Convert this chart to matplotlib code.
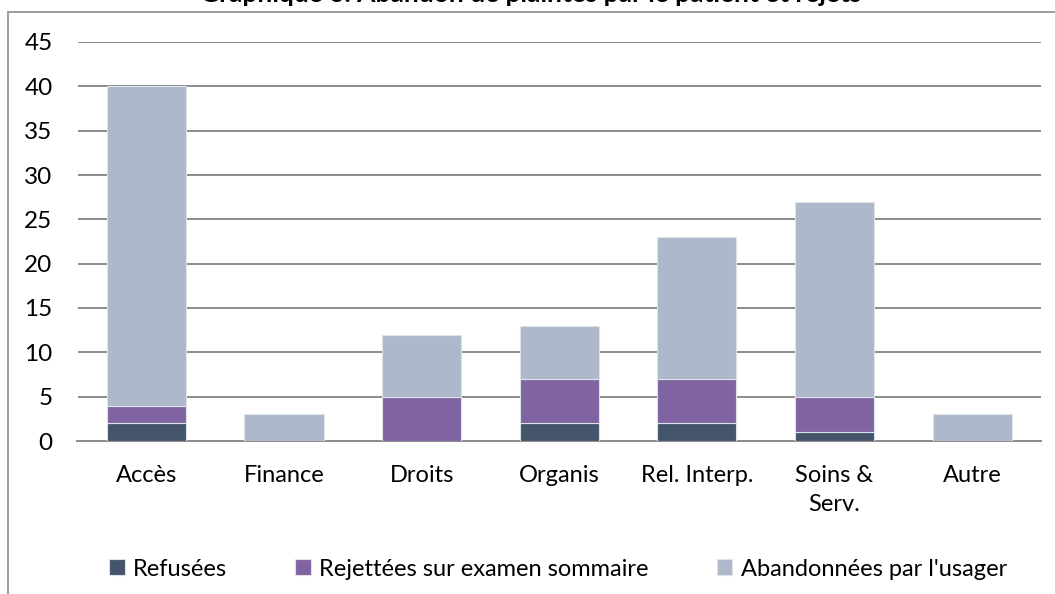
import matplotlib
matplotlib.use('Agg')
import matplotlib.pyplot as plt
import numpy as np
from matplotlib.patches import Rectangle

plt.rcParams['font.family'] = ['Lato', 'DejaVu Sans']

# données
categories = ['Accès', 'Finance', 'Droits', 'Organis', 'Rel. Interp.', 'Soins &\nServ.', 'Autre']
refusees = [2, 0, 0, 2, 2, 1, 0]
rejettees = [2, 0, 5, 5, 5, 4, 0]
abandonnees = [36, 3, 7, 6, 16, 22, 3]
series_names = ['Refusées', 'Rejettées sur examen sommaire', "Abandonnées par l'usager"]
colors = ['#44546A', '#8064A2', '#ADB9CA']
yticks = [0, 5, 10, 15, 20, 25, 30, 35, 40, 45]

W, H = 1055, 594
fig = plt.figure(figsize=(W / 100, H / 100), dpi=100)
ax = fig.add_axes([77.5 / W, 1 - 441 / H, (1041 - 77.5) / W, (441 - 42) / H])

x = np.arange(len(categories))
bottom = np.zeros(len(categories))
for vals, name, col in zip([refusees, rejettees, abandonnees], series_names, colors):
    ax.bar(x, vals, 0.575, bottom=bottom, color=col, label=name,
           edgecolor='#dde3ea', linewidth=0.8, zorder=3)
    bottom += np.array(vals)

ax.set_xlim(-0.5, len(categories) - 0.5)
ax.set_ylim(0, 45)
ax.set_yticks(yticks)
ax.set_xticks(x)
ax.set_xticklabels(categories, fontsize=17, linespacing=1.5)
ax.tick_params(axis='y', length=0, labelsize=17.5, pad=18)
ax.tick_params(axis='x', length=0, pad=17)
ax.grid(axis='y', color='#8c8c8c', linewidth=1.4, zorder=0)
for s in ['top', 'right', 'left']:
    ax.spines[s].set_visible(False)
ax.spines['bottom'].set_color('#8c8c8c')
ax.spines['bottom'].set_linewidth(1.4)

# cadre du graphique
fig.patches.append(Rectangle((8 / W, -0.1), 1.2, 1 - 12 / H + 0.1, transform=fig.transFigure,
                             fill=False, edgecolor='#8c8c8c', linewidth=1.2))

fig.text(531 / W, 1 - 1.5 / H, 'Graphique 6. Abandon de plaintes par le patient et rejets',
         ha='center', va='baseline', fontsize=19, fontweight='bold')

leg = fig.legend(loc='center', bbox_to_anchor=(558 / W, 1 - 569 / H), ncol=3, frameon=False,
                 fontsize=17, handlelength=0.65, handleheight=0.65, handletextpad=0.35,
                 columnspacing=2.9)

fig.savefig('out.png', dpi=100)
